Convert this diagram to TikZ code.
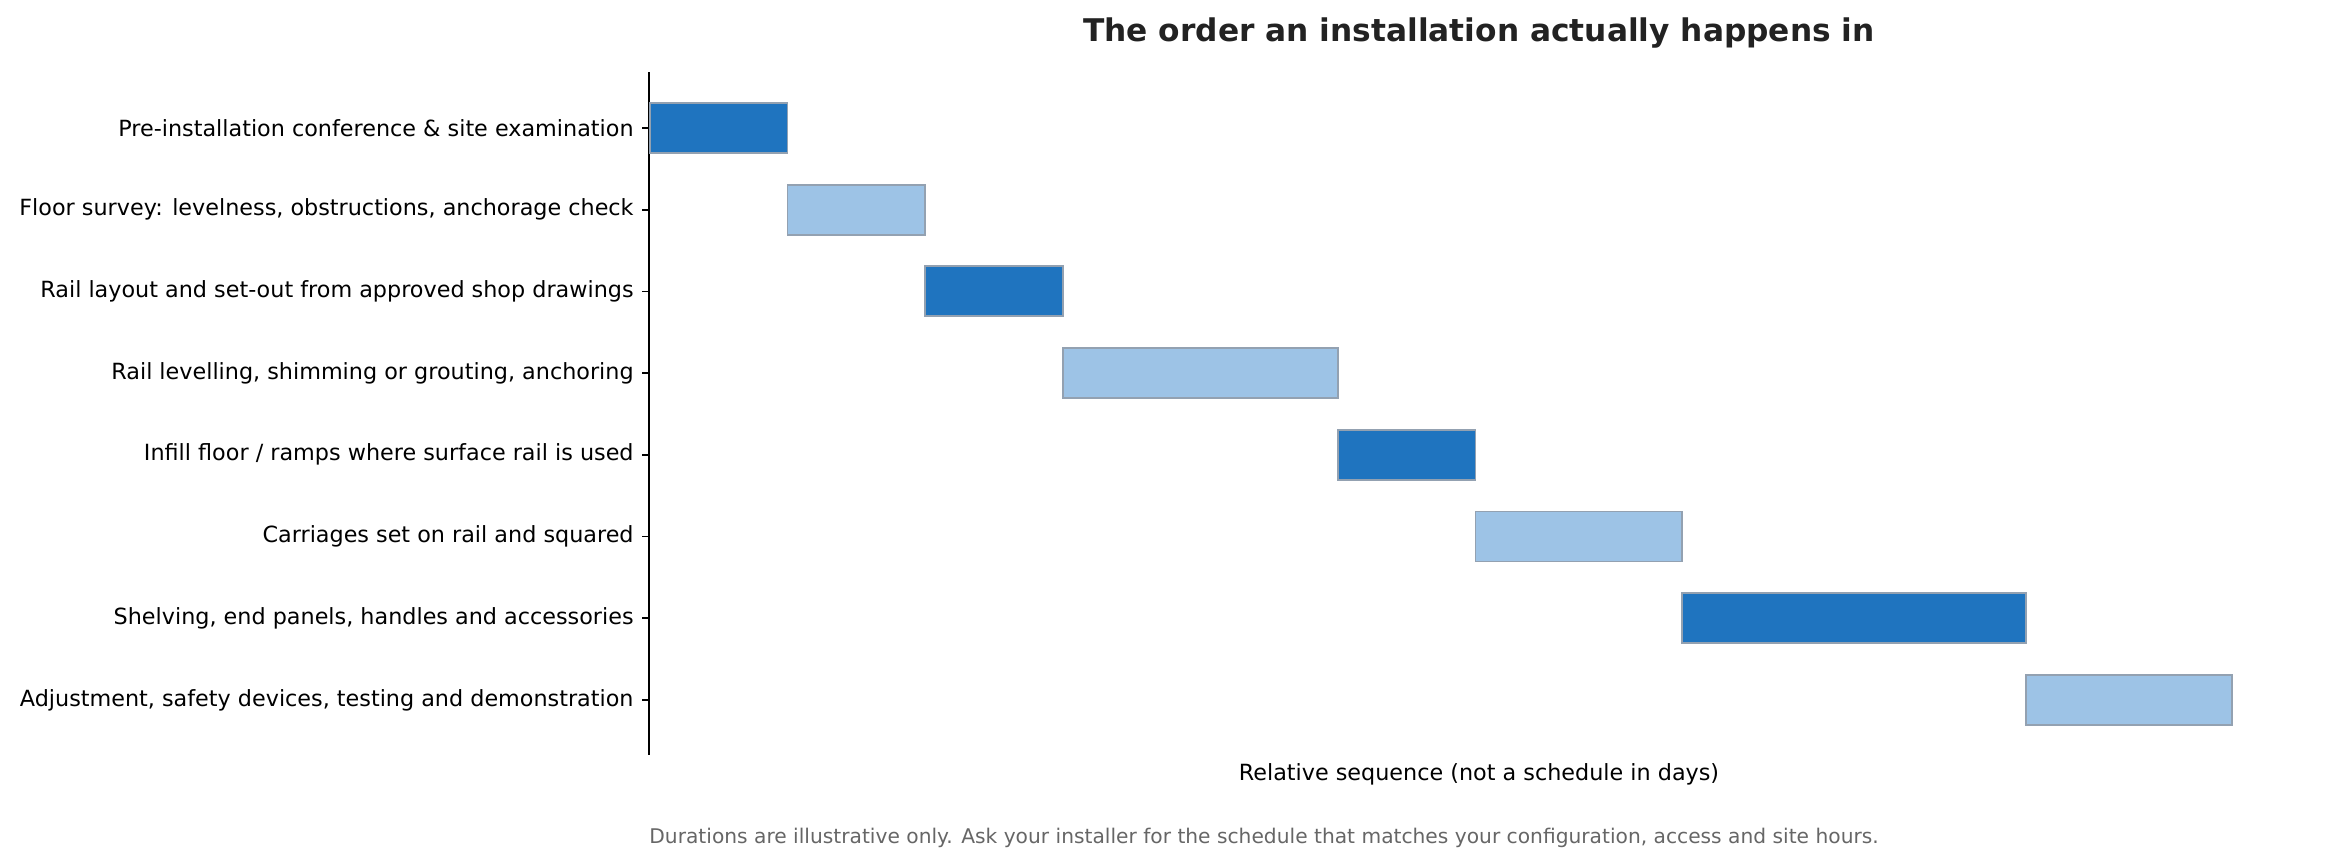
\documentclass[tikz,border=0pt]{standalone}
\usepackage{fontspec}
\setmainfont{DejaVu Sans}
\usepackage{tikz}
\usetikzlibrary{positioning}

\definecolor{bardark}{HTML}{1F74BF}
\definecolor{barlight}{HTML}{9DC3E6}
\definecolor{baredge}{HTML}{93A1B1}
\definecolor{titlegray}{HTML}{222222}
\definecolor{notegray}{HTML}{666666}

\tikzset{
  bar/.style={draw=baredge,line width=0.9pt,minimum height=24pt,inner sep=0pt,anchor=west},
  darkbar/.style={bar,fill=bardark},
  lightbar/.style={bar,fill=barlight},
  steplabel/.style={anchor=east,inner sep=0pt,font=\fontsize{10.7}{12.8}\selectfont}
}

\begin{document}
\begin{tikzpicture}[x=0.48pt,y=-0.48pt]
\useasboundingbox (0,0) rectangle (2326,863);
% axis
\draw[line width=0.8pt] (649,72) -- (649,755);
\foreach \y in {128,209.7,291.4,373.1,454.8,536.5,618.2,699.9}
  \draw[line width=0.8pt] (642,\y) -- (649,\y);
% step labels
\node[steplabel] (l1) at (634,128) {Pre-installation conference \& site examination};
\node[steplabel] (l2) at (634,209.7) {Floor survey: levelness, obstructions, anchorage check};
\node[steplabel] (l3) at (634,291.4) {Rail layout and set-out from approved shop drawings};
\node[steplabel] (l4) at (634,373.1) {Rail levelling, shimming or grouting, anchoring};
\node[steplabel] (l5) at (634,454.8) {Infill floor / ramps where surface rail is used};
\node[steplabel] (l6) at (634,536.5) {Carriages set on rail and squared};
\node[steplabel] (l7) at (634,618.2) {Shelving, end panels, handles and accessories};
\node[steplabel] (l8) at (634,699.9) {Adjustment, safety devices, testing and demonstration};
% bars, one unit = 137.6px
\node[darkbar,minimum width=66.05pt] (b1) at (649,128) {};
\node[lightbar,minimum width=66.05pt] (b2) at (786.6,209.7) {};
\node[darkbar,minimum width=66.05pt] (b3) at (924.2,291.4) {};
\node[lightbar,minimum width=132.1pt] (b4) at (1061.8,373.1) {};
\node[darkbar,minimum width=66.05pt] (b5) at (1337,454.8) {};
\node[lightbar,minimum width=99.07pt] (b6) at (1474.6,536.5) {};
\node[darkbar,minimum width=165.12pt] (b7) at (1681,618.2) {};
\node[lightbar,minimum width=99.07pt] (b8) at (2025,699.9) {};
% title and notes
\node[font=\fontsize{15}{18}\selectfont\bfseries,text=titlegray] (title) at (1479,33) {The order an installation actually happens in};
\node[font=\fontsize{10.7}{12.8}\selectfont] (xlab) at (1479,774) {Relative sequence (not a schedule in days)};
\node[font=\fontsize{9.7}{11.6}\selectfont,text=notegray,anchor=west,inner sep=0pt] (note) at (649,838) {Durations are illustrative only. Ask your installer for the schedule that matches your configuration, access and site hours.};
\end{tikzpicture}
\end{document}
